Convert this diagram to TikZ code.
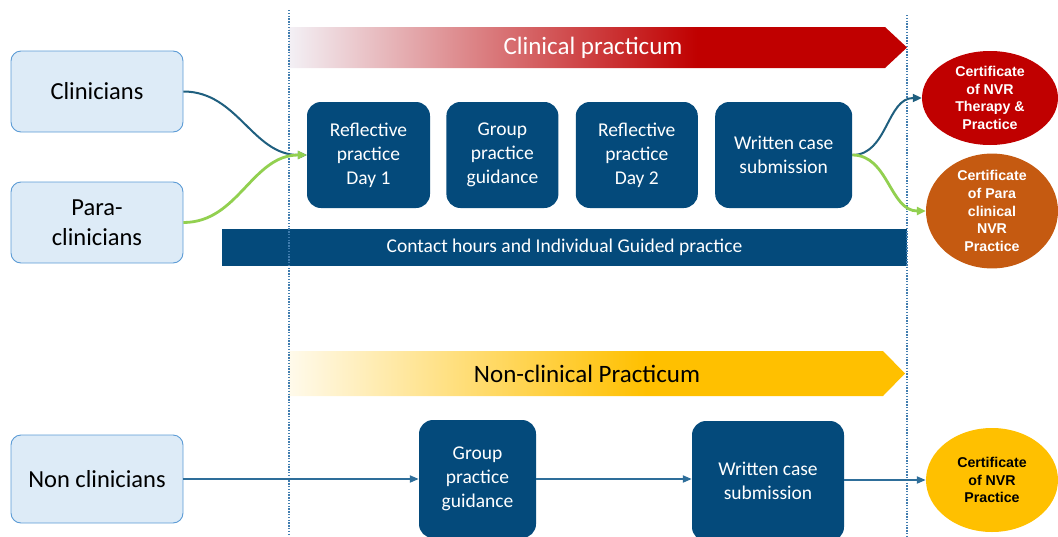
\documentclass[tikz,border=0pt]{standalone}
\usepackage{fontspec}
\setmainfont{Carlito}
\newfontfamily\certfont{Liberation Sans}
\usetikzlibrary{positioning,arrows.meta,shapes.geometric}
\definecolor{navy}{RGB}{4,74,123}
\definecolor{whofill}{RGB}{221,235,247}
\definecolor{whoedge}{RGB}{91,155,213}
\definecolor{clinred}{RGB}{192,0,0}
\definecolor{clinpale}{RGB}{243,240,245}
\definecolor{paraorange}{RGB}{197,90,17}
\definecolor{nonyellow}{RGB}{255,192,0}
\definecolor{nonpale}{RGB}{255,250,235}
\definecolor{linkteal}{RGB}{31,95,127}
\definecolor{linkgreen}{RGB}{146,208,80}
\definecolor{guideblue}{RGB}{65,125,175}
\definecolor{flowblue}{RGB}{46,110,154}
\pgfdeclarehorizontalshading{clinshade}{100bp}{color(0bp)=(clinpale); color(25bp)=(clinpale); color(58bp)=(clinred); color(100bp)=(clinred)}
\pgfdeclarehorizontalshading{nonshade}{100bp}{color(0bp)=(nonpale); color(25bp)=(nonpale); color(54bp)=(nonyellow); color(100bp)=(nonyellow)}
\begin{document}
\begin{tikzpicture}[
    x=1pt, y=-1pt,
    who/.style = {draw=whoedge, fill=whofill, rounded corners=10pt, line width=0.9pt,
      minimum width=172pt, minimum height=81pt, align=center,
      font=\fontsize{24.5}{29.5}\selectfont},
    stage/.style = {fill=navy, text=white, rounded corners=14pt, align=center,
      minimum height=106pt, inner sep=0pt, font=\fontsize{19.5}{24}\selectfont},
    cert/.style = {ellipse, align=center, inner sep=0pt, text=white,
      font=\certfont\bfseries\fontsize{14.2}{17.7}\selectfont},
    banner/.style = {font=\fontsize{25}{28}\selectfont},
    guide/.style = {draw=guideblue, dash pattern=on 1.4pt off 1.4pt, line width=1.6pt},
    link/.style = {-{Triangle[length=9pt,width=8pt]}, line width=2pt},
    flow/.style = {-{Triangle[length=9pt,width=7pt]}, line width=2pt, draw=flowblue}
  ]
  \useasboundingbox (0,0) rectangle (1058,536);
  \clip (0,0) rectangle (1058,536);

  % Phase banners.
  \shade[shading=clinshade] (289,27) -- (885,27) -- (907,47.5) -- (885,68) -- (289,68) -- cycle;
  \node[banner, text=white] (clinbar) at (593,47.5) {Clinical practicum};
  \shade[shading=nonshade] (289,351) -- (883,351) -- (905,373.5) -- (883,396) -- (289,396) -- cycle;
  \node[banner] (nonbar) at (587,373.5) {Non-clinical Practicum};

  % Participants.
  \node[who] (cli) at (97,91.5) {Clinicians};
  \node[who] (para) at (97,222.5) {Para-\\clinicians};
  \node[who, minimum height=88pt] (non) at (97,479) {Non clinicians};

  % Clinical row.
  \node[stage, minimum width=123pt] (d1) at (368.5,155) {Reflective\\practice\\Day 1};
  \node[stage, minimum width=112pt, right=16pt of d1] (grp) {Group\\practice\\guidance};
  \node[stage, minimum width=122pt, right=17pt of grp] (d2) {Reflective\\practice\\Day 2};
  \node[stage, minimum width=137pt, right=17pt of d2] (wcs) {Written case\\submission};
  \node[fill=navy, text=white, minimum width=685pt, minimum height=37pt, inner sep=0pt,
    font=\fontsize{19.5}{22}\selectfont] (contact) at (564.5,247.5)
    {Contact hours and Individual Guided practice};

  % Non-clinical row.
  \node[stage, minimum width=117pt, minimum height=118pt] (ngrp) at (477.5,479) {Group\\practice\\guidance};
  \node[stage, minimum width=152pt, minimum height=120pt] (nwcs) at (768,481) {Written case\\submission};

  % Certificates.
  \node[cert, fill=clinred, minimum width=136pt, minimum height=94pt] (cnvr) at (990,98)
    {Certificate\\of NVR\\Therapy \&\\Practice};
  \node[cert, fill=paraorange, minimum width=132pt, minimum height=98pt] (cpara) at (992,211)
    {Certificate\\of Para\\clinical\\NVR\\Practice};
  \node[cert, fill=nonyellow, text=black, minimum width=132pt, minimum height=104pt] (cnon) at (992,480)
    {Certificate\\of NVR\\Practice};

  % Phase borders.
  \draw[guide] (289,10) -- (289,536);
  \draw[guide] (907,15) -- (907,536);

  \draw[link, linkteal] (cli.east) to[out=0, in=180] (d1.west);
  \draw[link, linkgreen, line width=2.8pt] (para.east) to[out=0, in=180] (d1.west);
  \draw[link, linkteal] (wcs.east) to[out=0, in=180] (cnvr.west);
  \draw[link, linkgreen, line width=2.8pt] (wcs.east) to[out=0, in=180] (cpara.west);
  \draw[flow] (non.east) -- (ngrp.west);
  \draw[flow] (ngrp.east) -- (nwcs.west |- ngrp.east);
  \draw[flow] (nwcs.east |- cnon.west) -- (cnon.west);
\end{tikzpicture}
\end{document}
